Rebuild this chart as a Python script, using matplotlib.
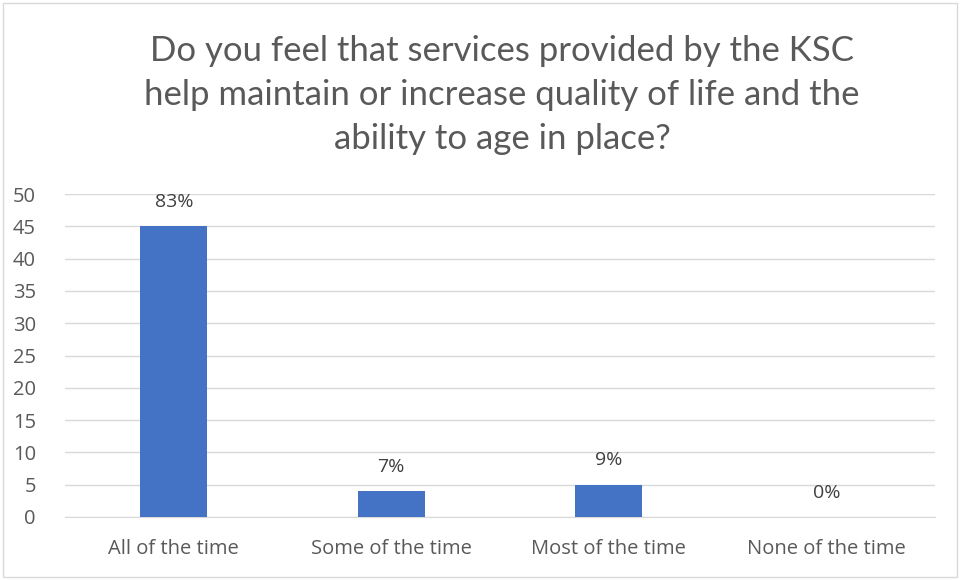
import matplotlib
matplotlib.use("Agg")
import matplotlib.pyplot as plt
from matplotlib.patches import Rectangle

categories = ["All of the time", "Some of the time", "Most of the time", "None of the time"]
values = [45, 4, 5, 0]
pct_labels = ["83%", "7%", "9%", "0%"]
yticks = [0, 5, 10, 15, 20, 25, 30, 35, 40, 45, 50]
title = "Do you feel that services provided by the KSC\nhelp maintain or increase quality of life and the\nability to age in place?"

W, H = 963, 580
fig = plt.figure(figsize=(W/100, H/100), dpi=100)
fig.patch.set_facecolor("white")
fig.add_artist(Rectangle((3/W, 3/H), 954/W, 574/H, transform=fig.transFigure,
                         fill=False, edgecolor="#d9d9d9", linewidth=1))

ax = fig.add_axes([65/W, 63/H, 870/W, 323/H])
x = range(len(categories))
ax.bar(x, values, width=0.31, color="#4472C4", zorder=3)
ax.set_xlim(-0.5, 3.5)
ax.set_ylim(0, 50)
ax.set_yticks(yticks)
ax.set_xticks(list(x))
ax.set_xticklabels(categories)
ax.grid(axis="y", color="#d9d9d9", linewidth=1, zorder=0)
for s in ["top", "right", "left"]:
    ax.spines[s].set_visible(False)
ax.spines["bottom"].set_color("#d9d9d9")
ax.tick_params(axis="both", length=0, labelsize=14.5, colors="#595959")
ax.tick_params(axis="x", pad=16)
ax.tick_params(axis="y", pad=21)
for lab in ax.get_xticklabels() + ax.get_yticklabels():
    lab.set_fontfamily("Open Sans")
for xi, v, p in zip(x, values, pct_labels):
    ax.annotate(p, (xi, v), xytext=(0, 11), textcoords="offset points",
                ha="center", va="bottom", fontsize=14, color="#404040",
                fontfamily="Open Sans")

fig.text(502/W, 1 - 95/H, title, ha="center", va="center", fontsize=25,
         color="#595959", fontfamily=["Lato", "DejaVu Sans"],
         linespacing=1.47)

fig.savefig("out.png", dpi=100, facecolor="white")
